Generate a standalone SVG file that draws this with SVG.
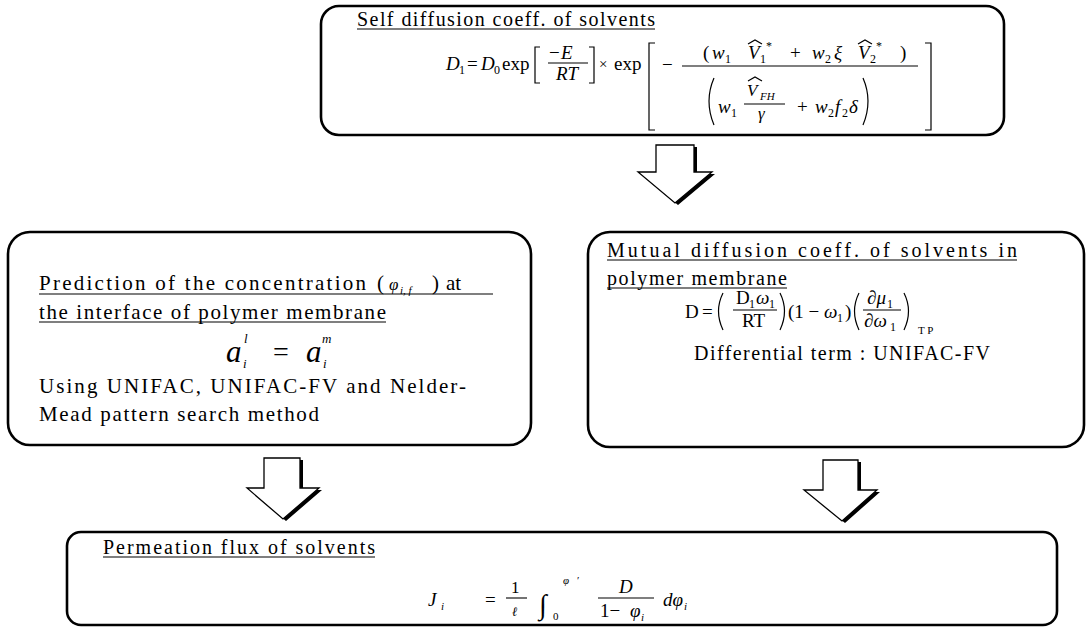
<svg xmlns="http://www.w3.org/2000/svg" width="1087" height="628" viewBox="0 0 1087 628">
<defs>
<style>
.box{fill:#fff;stroke:#000;stroke-width:2.6}
.t{font-family:"Liberation Serif","Times New Roman",serif;font-size:20px;fill:#000}
.tl{font-family:"Liberation Serif","Times New Roman",serif;font-size:21px;fill:#000}
.m{font-family:"Liberation Serif","Times New Roman",serif;font-style:italic;font-size:19px;fill:#000}
.r{font-family:"Liberation Serif","Times New Roman",serif;font-size:19px;fill:#000}
.s{font-size:12px}
.ul{stroke:#000;stroke-width:1.1}
.bar{stroke:#000;stroke-width:1.1}
.dl{fill:none;stroke:#000;stroke-width:1.2}
.arr{fill:#fff;stroke:#000;stroke-width:1.3;stroke-linejoin:miter}
.sh{fill:#000}
</style>
</defs>
<rect width="1087" height="628" fill="#fff"/>

<g id="connectors">
  <polygon class="sh" points="659,147 697,147 697,174 715,174 678,205 641,174 659,174"/>
  <polygon class="arr" points="656,145 694,145 694,172 712,172 675,203 638,172 656,172"/>
  <polygon class="sh" points="267,460 303,460 303,490 322,490 286,521 250,490 267,490"/>
  <polygon class="arr" points="264,458 300,458 300,488 319,488 283,519 247,488 264,488"/>
  <polygon class="sh" points="826,462 861,462 861,492 880,492 845,523 807,492 826,492"/>
  <polygon class="arr" points="823,460 858,460 858,490 877,490 842,521 804,490 823,490"/>
</g>

<g id="node-self-diffusion">
  <rect class="box" x="321" y="6" width="683" height="129" rx="18"/>
  <text class="t" x="357" y="26" textLength="298" lengthAdjust="spacing">Self diffusion coeff. of solvents</text>
  <line class="ul" x1="357" y1="29" x2="655" y2="29"/>
  <text class="m" x="446" y="70">D</text><text class="r s" x="459" y="74">1</text>
  <text class="r" x="467" y="70">=</text>
  <text class="m" x="481" y="70">D</text><text class="r s" x="494" y="74">0</text>
  <text class="r" x="502" y="70">exp</text>
  <path class="dl" d="M540,47 H535 V83 H540"/>
  <text class="r" x="549" y="59">−</text><text class="m" x="561" y="59">E</text>
  <line class="bar" x1="548" y1="63" x2="588" y2="63"/>
  <text class="m" x="556" y="80">RT</text>
  <path class="dl" d="M589,47 H594 V83 H589"/>
  <text class="r" x="599" y="69" style="font-size:15px">×</text>
  <text class="r" x="614" y="70">exp</text>
  <path class="dl" d="M655,43 H649 V130 H655"/>
  <text class="r" x="662" y="71">−</text>
  <line class="bar" x1="682" y1="66" x2="918" y2="66"/>
  <text class="r" x="703" y="59">(</text>
  <text class="m" x="712" y="59">w</text><text class="r s" x="725" y="63">1</text>
  <path class="dl" d="M748,44 L755,40 L762,44"/>
  <text class="m" x="748" y="59">V</text><text class="r s" x="760" y="63">1</text><text class="r s" x="766" y="50">*</text>
  <text class="r" x="790" y="59">+</text>
  <text class="m" x="812" y="59">w</text><text class="r s" x="825" y="63">2</text>
  <text class="m" x="834" y="59">ξ</text>
  <path class="dl" d="M858,44 L865,40 L872,44"/>
  <text class="m" x="858" y="59">V</text><text class="r s" x="870" y="63">2</text><text class="r s" x="876" y="50">*</text>
  <text class="r" x="900" y="59">)</text>
  <path class="dl" d="M714,78 Q704,101 714,125"/>
  <text class="m" x="718" y="113">w</text><text class="r s" x="731" y="117">1</text>
  <path class="dl" d="M748,81 L755,77 L762,81"/>
  <text class="m" x="747" y="96" style="font-size:17px">V</text>
  <text class="m" x="760" y="100" style="font-size:11px">FH</text>
  <line class="bar" x1="744" y1="104" x2="785" y2="104"/>
  <text class="m" x="758" y="119" style="font-size:17px">γ</text>
  <text class="r" x="797" y="113">+</text>
  <text class="m" x="815" y="113">w</text><text class="r s" x="828" y="117">2</text>
  <text class="m" x="835" y="113">f</text><text class="r s" x="842" y="117">2</text>
  <text class="m" x="849" y="113">δ</text>
  <path class="dl" d="M863,78 Q873,101 863,125"/>
  <path class="dl" d="M925,43 H931 V130 H925"/>
</g>

<g id="node-prediction">
  <rect class="box" x="8" y="232" width="523" height="213" rx="22"/>
  <text class="tl" x="39" y="290" textLength="327" lengthAdjust="spacing">Prediction of the concentration</text>
  <text class="tl" x="377" y="290">(</text>
  <text class="m" x="389" y="290" style="font-size:17px">φ</text>
  <text class="m" x="400" y="294" style="font-size:11px">i, f</text>
  <text class="tl" x="432" y="290">)</text>
  <text class="tl" x="446" y="290">at</text>
  <line class="ul" x1="39" y1="294" x2="493" y2="294"/>
  <text class="tl" x="39" y="319" textLength="347" lengthAdjust="spacing">the interface of polymer membrane</text>
  <line class="ul" x1="39" y1="322" x2="386" y2="322"/>
  <text class="m" x="226" y="362" style="font-size:31px">a</text>
  <text class="m" x="243" y="368" style="font-size:13px">i</text>
  <text class="m" x="244" y="343" style="font-size:13px">l</text>
  <text class="r" x="273" y="361" style="font-size:28px">=</text>
  <text class="m" x="306" y="362" style="font-size:31px">a</text>
  <text class="m" x="323" y="368" style="font-size:13px">i</text>
  <text class="m" x="322" y="343" style="font-size:13px">m</text>
  <text class="tl" x="39" y="393" textLength="427" lengthAdjust="spacing">Using UNIFAC, UNIFAC-FV and Nelder-</text>
  <text class="tl" x="39" y="421" textLength="280" lengthAdjust="spacing">Mead pattern search method</text>
</g>

<g id="node-mutual-diffusion">
  <rect class="box" x="588" y="232" width="496" height="215" rx="22"/>
  <text class="t" x="607" y="257" textLength="410" lengthAdjust="spacing">Mutual diffusion coeff. of solvents in</text>
  <line class="ul" x1="607" y1="260" x2="1017" y2="260"/>
  <text class="t" x="607" y="285" textLength="180" lengthAdjust="spacing">polymer membrane</text>
  <line class="ul" x1="607" y1="288" x2="787" y2="288"/>
  <text class="r" x="685" y="318">D</text>
  <text class="r" x="702" y="318">=</text>
  <path class="dl" d="M723,293 Q714,311 723,330"/>
  <text class="r" x="736" y="304">D</text><text class="r s" x="749" y="308">1</text>
  <text class="m" x="756" y="304">ω</text><text class="r s" x="769" y="308">1</text>
  <line class="bar" x1="733" y1="310" x2="777" y2="310"/>
  <text class="r" x="742" y="327">RT</text>
  <path class="dl" d="M780,293 Q789,311 780,330"/>
  <text class="r" x="788" y="318">(1 −</text>
  <text class="m" x="824" y="318">ω</text><text class="r s" x="837" y="322">1</text>
  <text class="r" x="845" y="318">)</text>
  <path class="dl" d="M859,293 Q850,311 859,330"/>
  <text class="m" x="867" y="304">∂μ</text><text class="r s" x="887" y="308">1</text>
  <line class="bar" x1="863" y1="310" x2="901" y2="310"/>
  <text class="m" x="864" y="327">∂ω</text><text class="r s" x="890" y="331">1</text>
  <path class="dl" d="M904,293 Q913,311 904,330"/>
  <text class="r" x="918" y="334" style="font-size:11px">T  P</text>
  <text class="t" x="694" y="360" textLength="296" lengthAdjust="spacing">Differential term : UNIFAC-FV</text>
</g>

<g id="node-permeation">
  <rect class="box" x="67" y="532" width="990" height="93" rx="14"/>
  <text class="t" x="103" y="554" textLength="272" lengthAdjust="spacing">Permeation flux of solvents</text>
  <line class="ul" x1="103" y1="557" x2="375" y2="557"/>
  <text class="m" x="428" y="606">J</text><text class="m" x="441" y="610" style="font-size:11px">i</text>
  <text class="r" x="485" y="606">=</text>
  <text class="r" x="511" y="593" style="font-size:17px">1</text>
  <line class="bar" x1="506" y1="598" x2="527" y2="598"/>
  <text class="m" x="512" y="616" style="font-size:13px">ℓ</text>
  <text class="r" x="539" y="614" style="font-size:28px">∫</text>
  <text class="r" x="553" y="620" style="font-size:11px">0</text>
  <text class="m" x="563" y="584" style="font-size:11px">φ</text>
  <text class="r" x="577" y="584" style="font-size:11px">′</text>
  <text class="m" x="619" y="593">D</text>
  <line class="bar" x1="598" y1="598" x2="654" y2="598"/>
  <text class="r" x="600" y="617">1−</text>
  <text class="m" x="630" y="617">φ</text><text class="m" x="641" y="621" style="font-size:11px">i</text>
  <text class="m" x="663" y="606">dφ</text><text class="m" x="684" y="610" style="font-size:11px">i</text>
</g>
</svg>
